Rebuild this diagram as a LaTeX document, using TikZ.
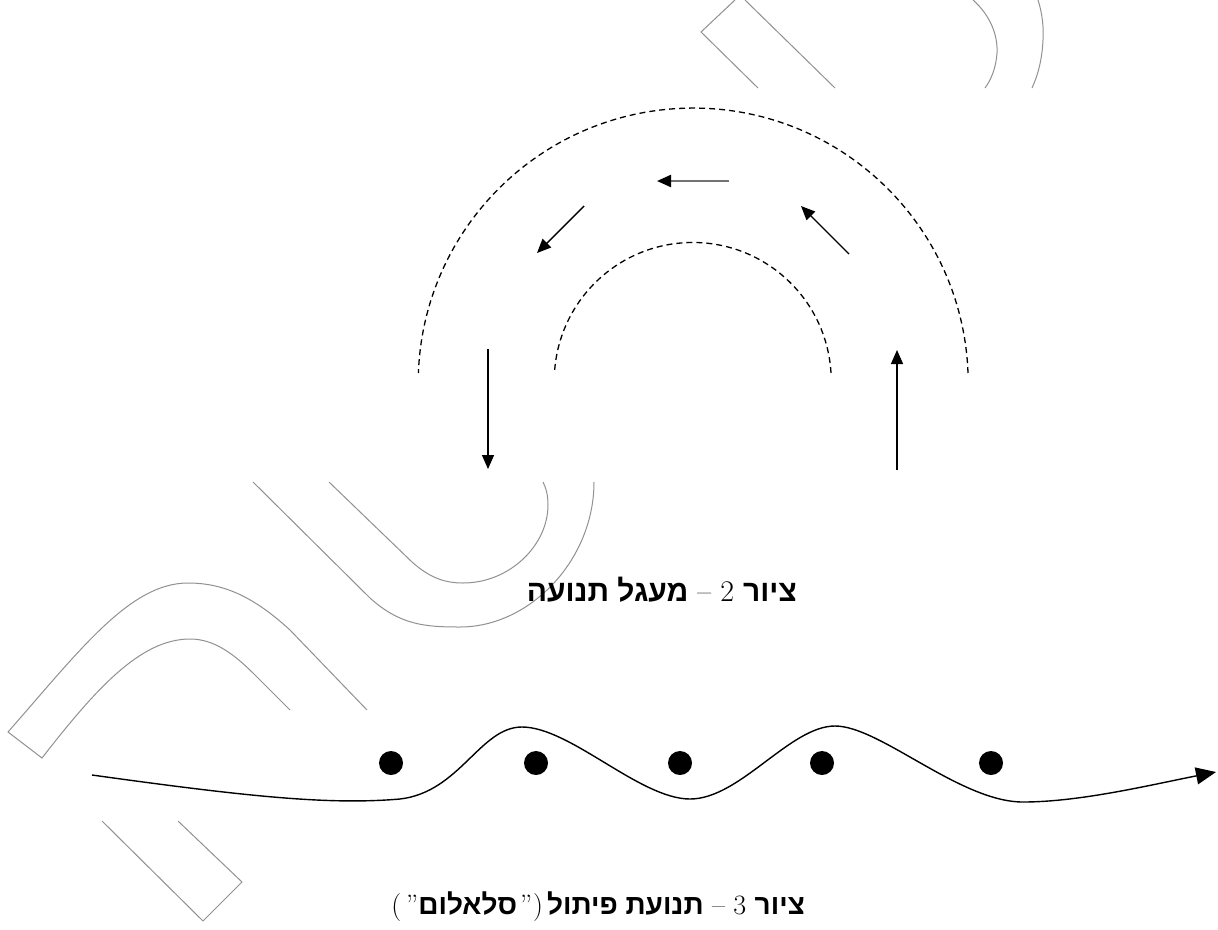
\documentclass[tikz,border=0pt]{standalone}
\usepackage{fontspec}
\usetikzlibrary{arrows.meta}
\newfontfamily\hebfont[Script=Hebrew]{Liberation Sans}
\TeXXeTstate=1
\newcommand{\hebw}[1]{{\hebfont\bfseries #1}}
\newcommand{\sq}{{\addfontfeatures{Ligatures=TeXOff}"}}
\definecolor{roadgray}{RGB}{145,145,145}
\begin{document}
\begin{tikzpicture}[x=1pt,y=-1pt,
  road/.style={draw=roadgray,line width=1pt},
  dasharc/.style={draw=black,line width=1.3pt,dash pattern=on 6pt off 4pt},
  arr/.style={draw=black,line width=1.4pt,-{Triangle[length=14pt,width=12pt]}},
  grayarr/.style={draw=black!55,line width=2.2pt,-{Triangle[length=14pt,width=12pt,color=black]}},
  slalom/.style={draw=black,line width=1.4pt,-{Triangle[length=20pt,width=17pt]}},
  dot/.style={circle,fill=black,minimum size=24pt,inner sep=0pt},
  captext/.style={anchor=base east,inner sep=0pt,font=\fontsize{30}{35}\selectfont}]
\fill[white] (0,0) rectangle (1218,929);
\useasboundingbox (0,0) rectangle (1218,929);

% ---- gray road pieces ----
% top piece
\draw[road] (735,0) -- (701,32) -- (758,88);
\draw[road] (745,0) -- (835,88);
\draw[road] (973,0) .. controls (990,15) and (998,35) .. (997,53) .. controls (996,68) and (991,80) .. (985,88);
\draw[road] (1038,0) .. controls (1042,12) and (1044,28) .. (1043,40) .. controls (1042,60) and (1038,75) .. (1032,88);
% middle U
\draw[road] (253,482) -- (370,598) .. controls (400,625) and (425,627) .. (460,627) .. controls (530,627) and (594,560) .. (594,482);
\draw[road] (329,482) -- (412,562) .. controls (430,578) and (445,583) .. (463,583) .. controls (510,583) and (548,545) .. (548,505) .. controls (548,495) and (546,488) .. (543,482);
% left arch
\draw[road] (367,710) -- (290,630) .. controls (255,598) and (225,583) .. (188,583) .. controls (130,583) and (80,650) .. (8,732) -- (42,758) .. controls (95,690) and (140,639) .. (190,639) .. controls (215,639) and (235,655) .. (255,675) -- (290,710);
% bottom piece
\draw[road] (102,821) -- (203,921) -- (242,882) -- (178,821);

% ---- figure 2: traffic circle ----
\draw[dasharc] (968,373) arc[start angle=-2.1, end angle=-177.9, radius=275];
\draw[dasharc] (831,373) arc[start angle=-3.3, end angle=-176.7, radius=138.5];

\coordinate (a1s) at (488,349); \coordinate (a1e) at (488,469);
\coordinate (a2s) at (584,206); \coordinate (a2e) at (537,253);
\coordinate (a3s) at (729,181); \coordinate (a3e) at (657,181);
\coordinate (a4s) at (849,254); \coordinate (a4e) at (801,206);
\coordinate (a5s) at (897,470); \coordinate (a5e) at (897,350);
\draw[arr] (a1s) -- (a1e);
\draw[arr] (a2s) -- (a2e);
\draw[grayarr] (a3s) -- (a3e);
\draw[arr] (a4s) -- (a4e);
\draw[arr] (a5s) -- (a5e);

\node[captext] (cap2) at (797,601) {\beginR\hebw{ציור} 2 -- \hebw{מעגל תנועה}\endR};

% ---- figure 3: slalom ----
\node[dot] (d1) at (391,763) {};
\node[dot] (d2) at (536,763) {};
\node[dot] (d3) at (680,763) {};
\node[dot] (d4) at (822,763) {};
\node[dot] (d5) at (991,763) {};
\coordinate (sstart) at (92,775);
\coordinate (send) at (1216,772);
\draw[slalom] (sstart) .. controls (250,797) and (330,805) .. (400,799) .. controls (460,792) and (480,727) .. (522,727) .. controls (570,727) and (640,799) .. (690,799) .. controls (740,799) and (790,726) .. (835,726) .. controls (880,726) and (960,802) .. (1023,802) .. controls (1080,802) and (1150,785) .. (send);

\node[captext,font=\fontsize{28}{33}\selectfont] (cap3) at (805,914) {\beginR\hebw{ציור} 3 -- \hebw{תנועת פיתול}\hspace{4pt})\hspace{1pt}\sq\hspace{3pt}\hebw{סלאלום}\sq\hspace{5pt}(\endR};
\end{tikzpicture}
\end{document}
